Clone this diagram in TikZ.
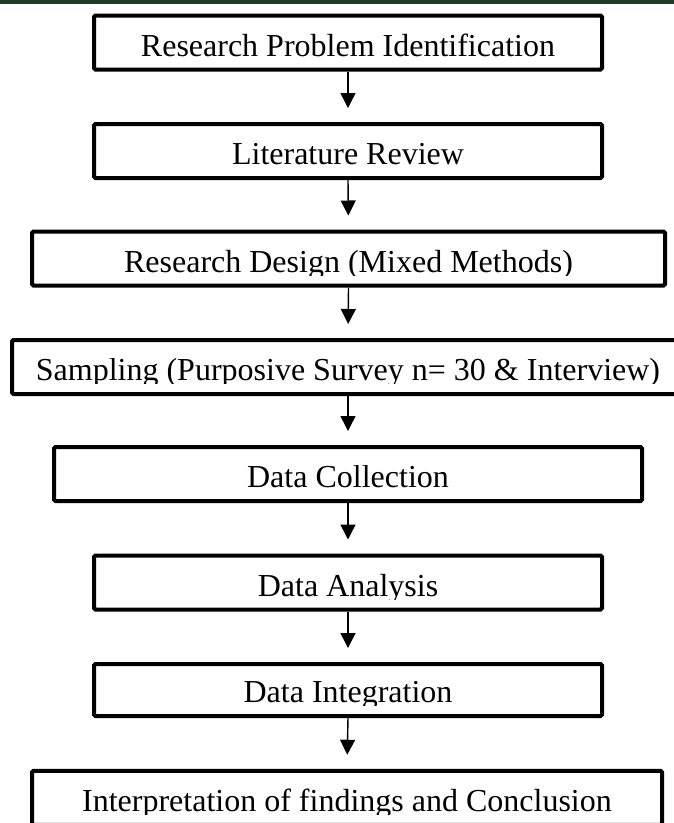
\documentclass[tikz,border=0pt]{standalone}
\usepackage{fontspec}
\setmainfont{Liberation Serif}
\usepackage{trimclip}
\usepackage{tikz}
\usetikzlibrary{positioning,arrows.meta}
\definecolor{bandgreen}{RGB}{30,60,40}
\tikzset{
  >={Triangle[width=15pt,length=15pt]},
  stepbox/.style={rectangle, rounded corners=1.5pt, draw=black, line width=4pt,
                  inner xsep=0pt, inner ysep=0pt, text height=40.5pt, text depth=13.5pt,
                  font=\fontsize{32}{36}\selectfont},
  line/.style={draw, line width=1.4pt, ->, shorten >=14pt}
}
\newcommand{\cuttext}[1]{\clipbox{0pt 4pt 0pt 0pt}{\vrule width 0pt height 0pt depth 7pt\relax #1}}

\begin{document}
\begin{tikzpicture}[x=1pt,y=-1pt]
    \useasboundingbox (0,0) rectangle (674,823);
    % Top band
    \fill[bandgreen] (0,0) rectangle (674,4);
    % Steps
    \node (problem) [stepbox, minimum width=508pt] at (348,42.5) {\cuttext{Research Problem Identification}};
    \node (review) [stepbox, minimum width=508pt] at (348,151) {\cuttext{Literature Review}};
    \node (design) [stepbox, minimum width=633pt] at (348.5,258.5) {\cuttext{Research Design (Mixed Methods)}};
    \node (sampling) [stepbox, minimum width=672pt] at (348,367) {\cuttext{Sampling (Purposive Survey n= 30 \& Interview)}};
    \node (collection) [stepbox, minimum width=588pt] at (348,474) {\cuttext{Data Collection}};
    \node (analysis) [stepbox, minimum width=508pt] at (348,582.5) {\cuttext{Data Analysis}};
    \node (integration) [stepbox, minimum width=508pt, text height=38.5pt] at (348,690) {\cuttext{Data Integration}};
    \node (conclusion) [stepbox, minimum width=630pt] at (347,797.75) {\cuttext{Interpretation of findings and Conclusion}};
    % Arrows
    \path [line] (problem.south) -- (review.north);
    \path [line] (review.south) -- (design.north);
    \path [line] (design.south) -- (sampling.north);
    \path [line] (sampling.south) -- (collection.north);
    \path [line] (collection.south) -- (analysis.north);
    \path [line] (analysis.south) -- (integration.north);
    \path [line] (integration.south) -- (conclusion.north);
\end{tikzpicture}
\end{document}
